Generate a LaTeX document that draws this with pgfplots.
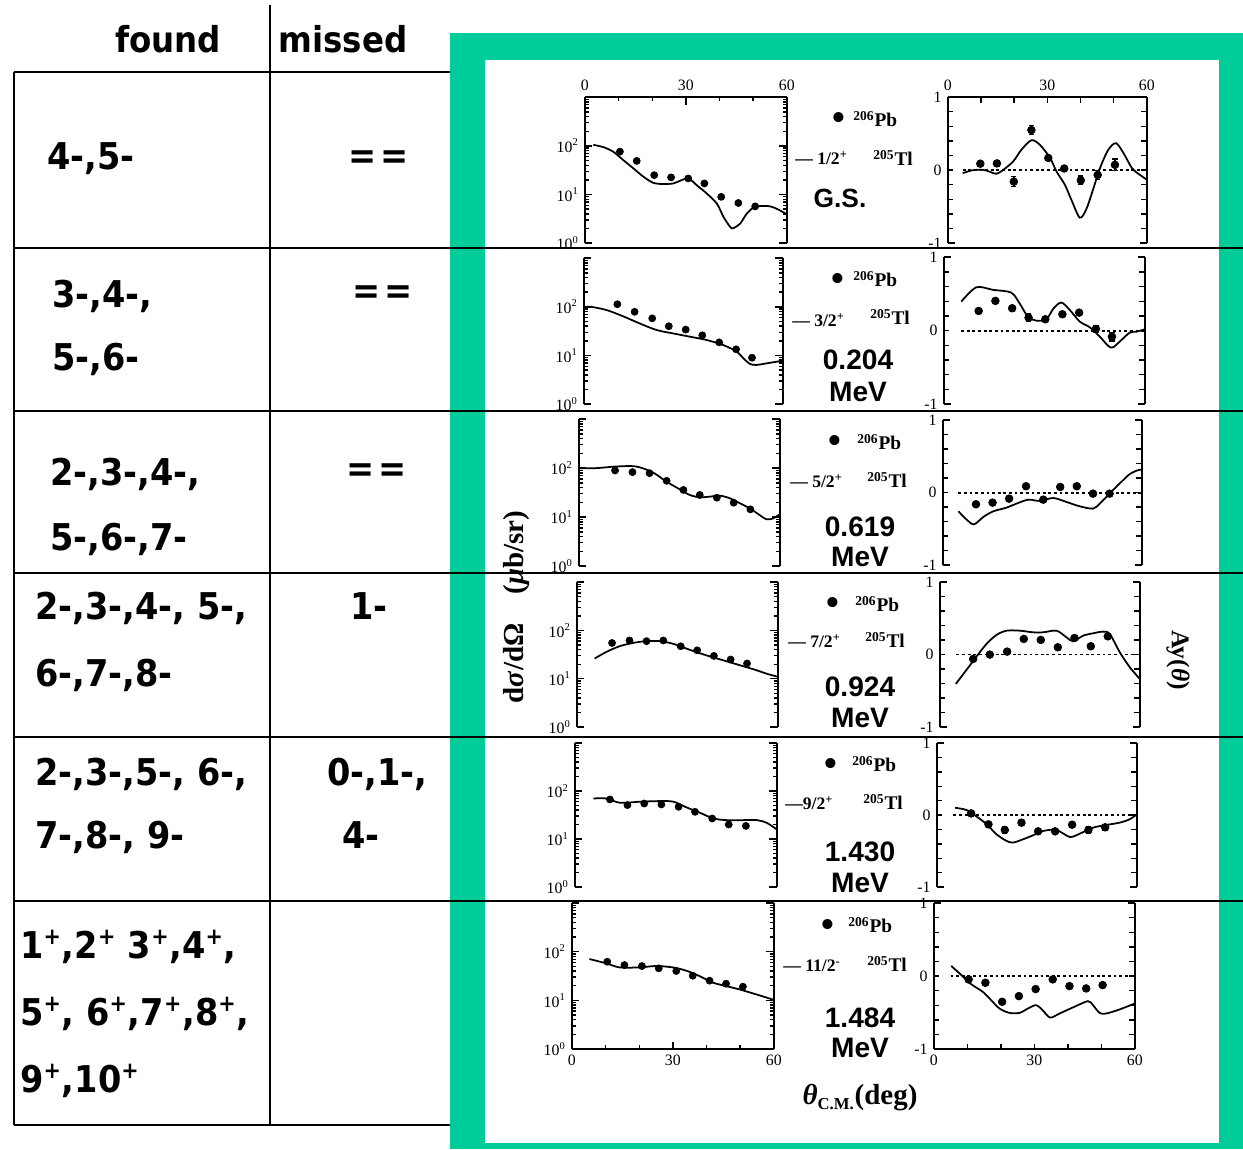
\documentclass[border=0pt]{standalone}
\usepackage{fontspec}
\setmainfont{Liberation Serif}
\newfontfamily\tabfont{DejaVu Sans}
\newfontfamily\panfont{Liberation Sans}
\usepackage{graphicx}
\usepackage{pgfplots}
\pgfplotsset{compat=1.18}
\definecolor{frame}{RGB}{0,204,153}
\pgfplotsset{
 myBase/.style={scale only axis, anchor=south west, clip=false,
   xmin=0, xmax=60, xtick={0,30,60}, xticklabels={0,30,60}, minor xtick={10,20,40,50},
   tick align=inside, axis line style={line width=1.1pt, black},
   every tick/.style={black, line width=0.8pt},
   tick label style={font=\fontsize{9}{10}\selectfont, black}},
 myXS/.style={myBase, ymin=1, ymax=1000, ytick={1,10,100,1000},
   yticklabels={10\textsuperscript{0},10\textsuperscript{1},10\textsuperscript{2},{}},
   minor ytick={2,3,4,5,6,7,8,9,20,30,40,50,60,70,80,90,200,300,400,500,600,700,800,900},
   major tick length=0.15cm, minor tick length=0.08cm},
 myAY/.style={myBase, ymin=-1, ymax=1, ytick={-1,0,1}, yticklabels={-1,0,1},
   minor ytick={-0.8,-0.6,-0.4,-0.2,0.2,0.4,0.6,0.8},
   major tick length=0.11cm, minor tick length=0.11cm},
 myRowT/.style={axis x line*=top},
 myRowM/.style={axis x line=none},
 myRowB/.style={axis x line*=bottom},
 myDat/.style={only marks, mark=*, mark size=2pt, black, mark options={fill=black}},
 myFit/.style={smooth, no marks, black, line width=1pt},
 myZero/.style={no marks, black, line width=1pt, dash pattern=on 1.6pt off 1.6pt},
 myAyDat/.style={only marks, mark=*, mark size=2.2pt, black, mark options={fill=black},
   error bars/.cd, y dir=both, y explicit,
   error bar style={line width=0.8pt, black},
   error mark options={black, mark size=1.5pt, line width=0.8pt, rotate=90}},
}
\newcommand\serT{\draw[line width=1.1pt] (rel axis cs:0,1) -- (rel axis cs:0.035,1);
   \draw[line width=1.1pt] (rel axis cs:1,1) -- (rel axis cs:0.965,1);}
\newcommand\serB{\draw[line width=1.1pt] (rel axis cs:0,0) -- (rel axis cs:0.035,0);
   \draw[line width=1.1pt] (rel axis cs:1,0) -- (rel axis cs:0.965,0);}
\newcommand\hdr[1]{{\tabfont\bfseries\fontsize{20.3}{22}\selectfont\scalebox{0.91}[1]{#1}}}
\newcommand\cella[1]{{\tabfont\bfseries\fontsize{21}{23}\selectfont\scalebox{0.91}[1]{#1}}}
\newcommand\pl{\textsuperscript{\fontsize{13}{13}\selectfont +}}
\newcommand\eqs{{\tabfont\bfseries\fontsize{21}{23}\selectfont\scalebox{0.91}[1]{=\kern0.12em=}}}
\newcommand\pb{{\bfseries\fontsize{11}{12}\selectfont\textsuperscript{206}Pb}}
\newcommand\tl{{\bfseries\fontsize{11}{12}\selectfont\textsuperscript{205}Tl}}
\newcommand\bul{{\fontsize{24}{24}\selectfont •}}
\newcommand\jp[1]{{\bfseries\fontsize{10}{11}\selectfont #1}}
\newcommand\en[1]{{\panfont\bfseries\fontsize{16}{18}\selectfont #1}}
\begin{document}
\begin{tikzpicture}[x=0.02cm,y=0.02cm]
\useasboundingbox (0,0) rectangle (1243,1149);
\fill[frame] (450,0) rectangle (1243,1116);
\fill[white] (485,6) rectangle (1219,1089);
% table
\draw[line width=1.1pt] (270,1144) -- (270,24);
\draw[line width=1.1pt] (14,1077) -- (14,24);
\draw[line width=1.1pt] (14,1077) -- (450,1077);
\draw[line width=1.1pt] (14,24) -- (450,24);
\foreach \yy in {901,738,576,412,248} \draw[line width=1.3pt] (14,\yy) -- (1243,\yy);
\node[anchor=base] at (168,1096) {\hdr{found}};
\node[anchor=base] at (343,1096) {\hdr{missed}};
\node[anchor=base west, inner sep=0] at (47,979) {\cella{4-,5-}};
\node at (379,989) {\eqs};
\node[anchor=base west, inner sep=0] at (52,841) {\cella{3-,4-,}};
\node[anchor=base west, inner sep=0] at (52,778) {\cella{5-,6-}};
\node at (383,854) {\eqs};
\node[anchor=base west, inner sep=0] at (50,663) {\cella{2-,3-,4-,}};
\node[anchor=base west, inner sep=0] at (50,598) {\cella{5-,6-,7-}};
\node at (377,676) {\eqs};
\node[anchor=base west, inner sep=0] at (35,529) {\cella{2-,3-,4-, 5-,}};
\node[anchor=base west, inner sep=0] at (35,462) {\cella{6-,7-,8-}};
\node[anchor=base west, inner sep=0] at (350,529) {\cella{1-}};
\node[anchor=base west, inner sep=0] at (35,363) {\cella{2-,3-,5-, 6-,}};
\node[anchor=base west, inner sep=0] at (35,300) {\cella{7-,8-, 9-}};
\node[anchor=base west, inner sep=0] at (327,363) {\cella{0-,1-,}};
\node[anchor=base west, inner sep=0] at (342,300) {\cella{4-}};
\node[anchor=base west, inner sep=0] at (20,191) {\cella{1\pl,2\pl{} 3\pl,4\pl,}};
\node[anchor=base west, inner sep=0] at (20,124) {\cella{5\pl, 6\pl,7\pl,8\pl,}};
\node[anchor=base west, inner sep=0] at (20,57) {\cella{9\pl,10\pl}};
% panel labels
\node[inner sep=0] at (839,1027) {\bul};
\node[anchor=base west, inner sep=0] at (853,1022) {\pb};
\node[anchor=base west, inner sep=0] at (795,984) {\jp{— 1/2\textsuperscript{+}}};
\node[anchor=base west, inner sep=0] at (873,983) {\tl};
\node[anchor=base] at (840,941) {{\panfont\bfseries\fontsize{15}{17}\selectfont G.S.}};
\node[inner sep=0] at (838,866) {\bul};
\node[anchor=base west, inner sep=0] at (853,862) {\pb};
\node[anchor=base west, inner sep=0] at (792,822) {\jp{— 3/2\textsuperscript{+}}};
\node[anchor=base west, inner sep=0] at (870,824) {\tl};
\node[anchor=base] at (858,779) {\en{0.204}};
\node[anchor=base] at (858,747) {\en{MeV}};
\node[inner sep=0] at (835,704) {\bul};
\node[anchor=base west, inner sep=0] at (857,699) {\pb};
\node[anchor=base west, inner sep=0] at (790,661) {\jp{— 5/2\textsuperscript{+}}};
\node[anchor=base west, inner sep=0] at (867,661) {\tl};
\node[anchor=base] at (860,612) {\en{0.619}};
\node[anchor=base] at (860,582) {\en{MeV}};
\node[inner sep=0] at (833,542) {\bul};
\node[anchor=base west, inner sep=0] at (855,537) {\pb};
\node[anchor=base west, inner sep=0] at (788,501) {\jp{— 7/2\textsuperscript{+}}};
\node[anchor=base west, inner sep=0] at (865,501) {\tl};
\node[anchor=base] at (860,452) {\en{0.924}};
\node[anchor=base] at (860,421) {\en{MeV}};
\node[inner sep=0] at (831,381) {\bul};
\node[anchor=base west, inner sep=0] at (852,377) {\pb};
\node[anchor=base west, inner sep=0] at (785,339) {\jp{—9/2\textsuperscript{+}}};
\node[anchor=base west, inner sep=0] at (863,339) {\tl};
\node[anchor=base] at (860,287) {\en{1.430}};
\node[anchor=base] at (860,256) {\en{MeV}};
\node[inner sep=0] at (828,220) {\bul};
\node[anchor=base west, inner sep=0] at (848,216) {\pb};
\node[anchor=base west, inner sep=0] at (783,177) {\jp{— 11/2\textsuperscript{-}}};
\node[anchor=base west, inner sep=0] at (867,177) {\tl};
\node[anchor=base] at (860,122) {\en{1.484}};
\node[anchor=base] at (860,92) {\en{MeV}};
\node[rotate=90] at (517,542) {\bfseries\fontsize{16.5}{18}\selectfont d\textit{σ}/dΩ\quad(\textit{μ}b/sr)};
\node[rotate=-90] at (1178,489) {\bfseries\fontsize{14.5}{16}\selectfont Ay(\textit{θ})};
\node at (860,51) {\bfseries\fontsize{16.5}{18}\selectfont \textit{θ}\textsubscript{\fontsize{9.5}{9.5}\selectfont C.M.}(deg)};
% ---------- cross sections ----------
\begin{semilogyaxis}[myXS, myRowT, at={(11.70cm,18.12cm)}, width=4.04cm, height=2.92cm]
\addplot[myFit] coordinates {(2.5,105) (5.5,94) (8.4,76) (11.4,51) (14.4,34.5) (17.4,23.2) (20.3,17.4) (23.3,16.4) (26.3,16.9) (28.3,19.2) (30.8,21.4) (33.2,15.6) (36.2,10.5) (39.2,6.5) (41.2,3.45) (43.2,2.14) (44.1,2.04) (46.1,2.51) (48.1,4.05) (50.1,5.4) (52.1,5.8) (55.1,5.7) (57.5,4.9) (60,3.9)};
\addplot[myDat] coordinates {(10.4,76) (15.4,49) (20.6,25) (25.6,22.5) (30.7,21.4) (35.5,16.9) (40.5,8.95) (45.6,6.7) (50.6,5.7)};
\serB
\end{semilogyaxis}
\begin{semilogyaxis}[myXS, myRowM, at={(11.68cm,14.90cm)}, width=3.98cm, height=2.92cm]
\addplot[myFit] coordinates {(1,100) (2.2,100) (6.8,86) (11.8,64) (16.8,45.6) (21.9,33.4) (26.9,28.4) (32,24.3) (37,20.8) (42,16.4) (46.1,12) (48.1,8.75) (50.1,6.7) (52.1,6.4) (56.2,7.1) (60,7.8)};
\addplot[myDat] coordinates {(10.1,113) (15.3,79) (20.6,58) (25.6,40) (30.7,34) (35.7,26) (40.8,18.6) (45.9,13.4) (50.7,9.0)};
\serT \serB
\end{semilogyaxis}
\begin{semilogyaxis}[myXS, myRowM, at={(11.58cm,11.66cm)}, width=4.02cm, height=2.94cm]
\addplot[myFit] coordinates {(0,100) (5.2,100) (11.2,108) (17.1,108) (22.1,81.5) (26.1,53.2) (30.1,37) (33.1,28.3) (36.1,25.4) (39.1,26.2) (42.1,27.4) (45.1,24.2) (48.1,19.1) (51,15.1) (54,11) (56,9) (58,9.4) (60,11.5)};
\addplot[myDat] coordinates {(10.8,89.5) (16,82.8) (21.1,78.9) (26.2,55) (31.2,35.9) (36.1,28.3) (41.2,24.9) (46.2,19.7) (51.2,14.4)};
\serT \serB
\end{semilogyaxis}
\begin{semilogyaxis}[myXS, myRowM, at={(11.54cm,8.44cm)}, width=4.02cm, height=2.90cm]
\addplot[myFit] coordinates {(5.3,26.2) (8.8,35.9) (12.7,47) (16.7,55) (20.7,60) (24.7,60) (28.7,53) (33.6,40) (38.6,30.6) (43.6,24.2) (48.6,19.1) (53.5,15.1) (57,12.5) (60,11)};
\addplot[myDat] coordinates {(10.5,55) (15.7,62) (20.8,60) (25.8,62) (31,47) (35.9,38.8) (40.9,29.7) (45.9,25) (50.8,20.7)};
\serT \serB
\end{semilogyaxis}
\begin{semilogyaxis}[myXS, myRowM, at={(11.50cm,5.24cm)}, width=4.04cm, height=2.88cm]
\addplot[myFit] coordinates {(5.5,70) (9.4,70) (13.4,57) (19.3,60) (25.3,61.8) (29.3,60) (33.2,45.6) (37.2,35.2) (41.2,26.8) (45.1,24.8) (50.1,24.8) (54.1,24.8) (57,21.8) (60,15.8)};
\addplot[myDat] coordinates {(10.4,67) (15.6,51) (20.6,55) (25.7,52.6) (30.8,47) (35.7,37) (40.8,26.8) (45.7,20.1) (50.8,18.8)};
\serT \serB
\end{semilogyaxis}
\begin{semilogyaxis}[myXS, myRowB, at={(11.44cm,2.00cm)}, width=4.04cm, height=2.92cm]
\addplot[myFit] coordinates {(5.2,70.7) (10.2,57.6) (14.2,47.6) (20.1,47.6) (25,50.8) (30,47.6) (34,40.7) (37.9,31.6) (41.9,23.1) (45.8,19.7) (49.8,16.8) (53.8,13.9) (57.7,11.5) (60,10.2)};
\addplot[myDat] coordinates {(10.5,62.3) (15.6,53.2) (20.8,50.7) (25.8,45.5) (31,40.1) (35.9,32.1) (40.9,25.4) (45.8,22) (50.8,19.1)};
\serT
\end{semilogyaxis}
% ---------- analysing powers ----------
\begin{axis}[myAY, myRowT, at={(18.96cm,18.12cm)}, width=3.98cm, height=2.92cm]
\addplot[myZero] coordinates {(4.5,0) (60,0)};
\addplot[myFit] coordinates {(4.5,-0.04) (7.6,0) (10.6,0.005) (12.6,-0.02) (14.6,-0.05) (16.6,0) (19.7,0.12) (22.2,0.28) (25.2,0.41) (27.7,0.35) (30.8,0.17) (32.8,-0.02) (35.3,-0.2) (37.3,-0.41) (39.8,-0.65) (41.8,-0.53) (43.9,-0.25) (45.9,0.03) (48.4,0.28) (50.7,0.37) (52.9,0.24) (55.5,0.03) (57.5,-0.05) (60,-0.13)};
\addplot[myAyDat] table[x=x, y=y, y error=e, row sep=\\] {x y e\\ 9.8 0.089 0.03\\ 14.8 0.093 0.04\\ 19.9 -0.157 0.07\\ 25.2 0.55 0.06\\ 30.3 0.167 0.03\\ 35.1 0.023 0.04\\ 40.1 -0.139 0.06\\ 45.2 -0.065 0.06\\ 50.4 0.073 0.08\\};
\serB
\end{axis}
\begin{axis}[myAY, myRowM, at={(18.88cm,14.90cm)}, width=4.02cm, height=2.94cm]
\addplot[myZero] coordinates {(5.2,0) (60,0)};
\addplot[myFit] coordinates {(5.2,0.395) (9.7,0.59) (14.7,0.555) (20.1,0.518) (22.6,0.373) (25.1,0.19) (27.6,0.136) (30.6,0.155) (32.8,0.305) (35.1,0.382) (37.6,0.282) (40.6,0.123) (43.6,0.045) (46.6,-0.082) (49.1,-0.209) (50.5,-0.227) (52.5,-0.15) (55.5,-0.027) (57.5,-0.014) (60,0.018)};
\addplot[myAyDat] table[x=x, y=y, y error=e, row sep=\\] {x y e\\ 10.4 0.268 0.03\\ 15.4 0.405 0.03\\ 20.4 0.305 0.04\\ 25.3 0.177 0.05\\ 30.3 0.155 0.03\\ 35.4 0.223 0.03\\ 40.4 0.245 0.03\\ 45.4 0.023 0.05\\ 50.2 -0.082 0.06\\};
\serT \serB
\end{axis}
\begin{axis}[myAY, myRowM, at={(18.86cm,11.68cm)}, width=3.98cm, height=2.90cm]
\addplot[myZero] coordinates {(4.7,0) (60,0)};
\addplot[myFit] coordinates {(4.7,-0.258) (7.2,-0.373) (9.4,-0.438) (12.2,-0.336) (15.2,-0.258) (19.2,-0.207) (22.7,-0.143) (25.8,-0.097) (29.3,-0.115) (33.3,-0.074) (37.3,-0.129) (41.3,-0.189) (45.3,-0.221) (47.3,-0.152) (50.3,-0.014) (53.3,0.124) (56.3,0.253) (58.8,0.309) (60,0.318)};
\addplot[myAyDat] table[x=x, y=y, y error=e, row sep=\\] {x y e\\ 10 -0.161 0.03\\ 15 -0.138 0.03\\ 20 -0.083 0.03\\ 25.1 0.088 0.03\\ 30.3 -0.097 0.03\\ 35.4 0.078 0.03\\ 40.4 0.088 0.03\\ 45.3 -0.014 0.03\\ 50.3 -0.014 0.03\\};
\serT \serB
\end{axis}
\begin{axis}[myAY, myRowM, at={(18.80cm,8.44cm)}, width=4.00cm, height=2.90cm]
\addplot[myZero] coordinates {(5,0) (60,0)};
\addplot[myFit] coordinates {(4.8,-0.404) (8,-0.211) (11,-0.028) (14,0.147) (17,0.271) (20,0.33) (24,0.33) (28,0.307) (31,0.307) (35,0.33) (38,0.239) (40,0.183) (43,0.261) (46,0.294) (49,0.317) (51,0.284) (54,0.032) (57,-0.174) (60,-0.335)};
\addplot[myAyDat] table[x=x, y=y, y error=e, row sep=\\] {x y e\\ 10 -0.06 0.03\\ 15 0 0.03\\ 20.2 0.041 0.03\\ 25.2 0.216 0.03\\ 30.3 0.202 0.03\\ 35.4 0.101 0.03\\ 40.4 0.229 0.03\\ 45.3 0.115 0.03\\ 50.4 0.252 0.03\\};
\serT \serB
\end{axis}
\begin{axis}[myAY, myRowM, at={(18.74cm,5.24cm)}, width=4.00cm, height=2.88cm]
\addplot[myZero] coordinates {(5,0) (60,0)};
\addplot[myFit] coordinates {(5.5,0.101) (9,0.069) (12,-0.023) (15,-0.129) (17.9,-0.267) (20.9,-0.359) (22.9,-0.382) (25.9,-0.336) (28.9,-0.281) (31.9,-0.221) (35.9,-0.207) (39.9,-0.304) (42.9,-0.258) (46.9,-0.175) (50.8,-0.138) (54.8,-0.106) (57.8,-0.06) (60,0.009)};
\addplot[myAyDat] table[x=x, y=y, y error=e, row sep=\\] {x y e\\ 10.3 0.023 0.03\\ 15.5 -0.129 0.04\\ 20.4 -0.207 0.04\\ 25.4 -0.106 0.04\\ 30.4 -0.226 0.03\\ 35.5 -0.226 0.03\\ 40.6 -0.134 0.03\\ 45.5 -0.207 0.04\\ 50.5 -0.17 0.04\\};
\serT \serB
\end{axis}
\begin{axis}[myAY, myRowB, at={(18.68cm,2.00cm)}, width=4.02cm, height=2.92cm]
\addplot[myZero] coordinates {(5,0) (60,0)};
\addplot[myFit] coordinates {(5.2,0.138) (8.2,0.014) (11.1,-0.11) (14.6,-0.216) (17.1,-0.33) (19.6,-0.445) (22.6,-0.505) (25.6,-0.505) (28.1,-0.445) (30.5,-0.399) (32.5,-0.468) (34.7,-0.569) (37.5,-0.514) (41.5,-0.431) (46,-0.344) (47.5,-0.399) (49.5,-0.505) (51.4,-0.514) (55.4,-0.459) (60,-0.376)};
\addplot[myAyDat] table[x=x, y=y, y error=e, row sep=\\] {x y e\\ 10.4 -0.046 0.03\\ 15.4 -0.092 0.03\\ 20.4 -0.353 0.03\\ 25.4 -0.275 0.03\\ 30.4 -0.179 0.03\\ 35.5 -0.046 0.03\\ 40.5 -0.138 0.03\\ 45.5 -0.17 0.03\\ 50.4 -0.124 0.03\\};
\serT
\end{axis}
\end{tikzpicture}
\end{document}
